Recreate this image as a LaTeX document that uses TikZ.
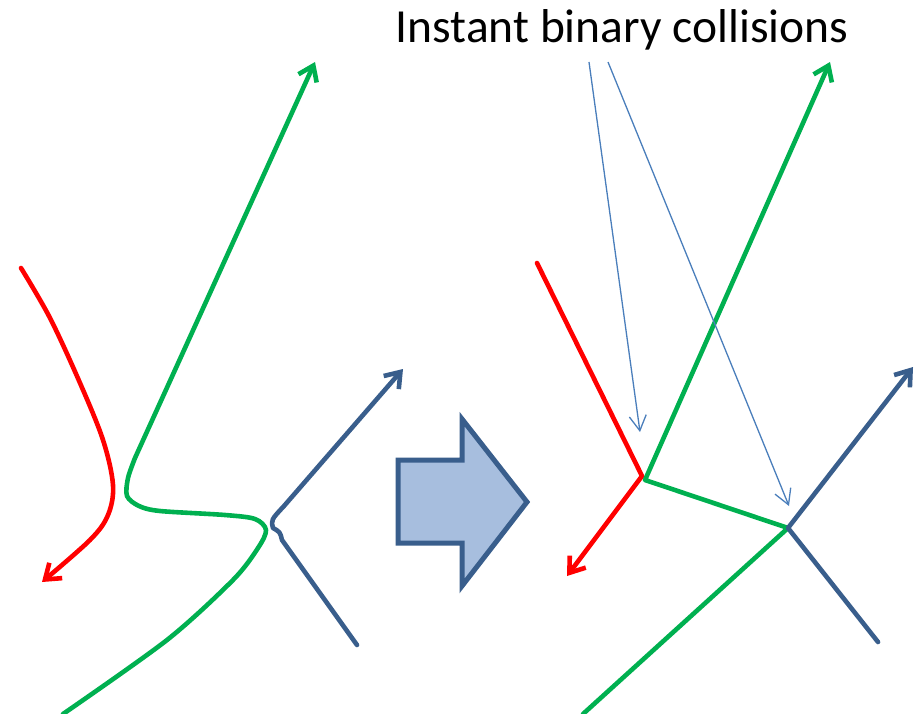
\documentclass[tikz,border=0pt]{standalone}
\usepackage{fontspec}
\setmainfont{Carlito}
\usetikzlibrary{arrows.meta}
\definecolor{myred}{RGB}{255,0,0}
\definecolor{mygreen}{RGB}{0,176,80}
\definecolor{myblue}{RGB}{57,94,140}
\definecolor{thinblue}{RGB}{74,126,187}
\definecolor{arrowfill}{RGB}{167,190,222}
\begin{document}
\begin{tikzpicture}[x=1pt,y=-1pt,
  traj/.style={line width=4.6pt, line cap=round, line join=round},
  headtip/.style={-{Straight Barb[length=14pt,width=20pt]}},
  pointer/.style={thinblue, line width=1.3pt, -{Straight Barb[length=15pt,width=17pt]}},
  bigarrow/.style={draw=myblue, fill=arrowfill, line width=5pt, line join=miter}
]
\useasboundingbox (0,0) rectangle (923,714);

% ---------- left panel ----------
\coordinate (lrs) at (21,268);
\coordinate (lrt) at (42,582);
\draw[traj, myred, headtip] plot[smooth, tension=0.55] coordinates
  {(21,268) (50,318) (80,383) (103,440) (113,485) (108,515) (90,540) (42,582)};

\coordinate (lgt) at (315,62);
\draw[traj, mygreen, headtip] plot[smooth, tension=0.5] coordinates
  {(63,714) (167,640) (233,580) (258,548) (266,530) (255,519) (225,515) (160,511) (139,506) (127,496) (128,478) (135,458)} -- (lgt);

\coordinate (lbs) at (357,645);
\coordinate (lbt) at (403,369);
\draw[traj, myblue, headtip] (lbs) -- (282,540) .. controls (280,532) .. (273,528)
  .. controls (271,520) .. (284,506) -- (lbt);

% ---------- big arrow ----------
\draw[bigarrow] (398,460) -- (462,460) -- (462,419) -- (527,502) -- (462,586)
  -- (462,543) -- (398,543) -- cycle;

% ---------- right panel ----------
\coordinate (rrs) at (537,263);
\coordinate (rj1) at (642,476);
\coordinate (rrt) at (567,576);
\coordinate (rgt) at (830,62);
\coordinate (rgj) at (645,480);
\coordinate (rj2) at (788,528);
\coordinate (rgb) at (583,714);
\coordinate (rbt) at (913,367);
\coordinate (rbb) at (878,642);

\draw[traj, myred, headtip] (rrs) -- (rj1) -- (rrt);
\draw[traj, mygreen, headtip] (rgb) -- (rj2) -- (rgj) -- (rgt);
\draw[traj, myblue, headtip] (rbb) -- (rj2) -- (rbt);

% ---------- label ----------
\node[anchor=base, font=\fontsize{47.5}{54}\selectfont] (lab) at (622,43) {Instant binary collisions};
\coordinate (p1s) at (589,62);
\coordinate (p1t) at (640,432);
\coordinate (p2s) at (608,62);
\coordinate (p2t) at (789,506);
\draw[pointer] (p1s) -- (p1t);
\draw[pointer] (p2s) -- (p2t);
\end{tikzpicture}
\end{document}
